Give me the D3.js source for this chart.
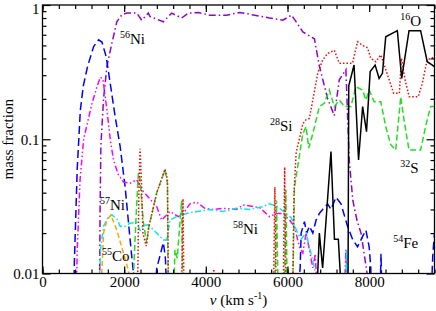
<!DOCTYPE html>
<html>
<head>
<meta charset="utf-8">
<script src="https://cdn.jsdelivr.net/npm/d3@7"></script>
<style>
  body { margin: 0; background: #fff; }
  svg { font-family: "Liberation Serif", "DejaVu Serif", serif; }
</style>
</head>
<body>
<div id="chart"></div>
<script>
// mass fraction vs velocity, one array per isotope: [v (km/s), X]
// values below 0.01 only mean "off the bottom of the plot"
var ni56 = [[1395,0.005],[1410,0.03],[1430,0.09],[1495,0.2],[1578,0.35],[1700,0.52],[1820,0.75],[1950,0.85],[2065,0.87],[2310,0.87],[2430,0.77],[2590,0.87],[2634,0.82],[2960,0.75],[3163,0.87],[3407,0.8],[3570,0.87],[3813,0.88],[4100,0.84],[4505,0.84],[4830,0.88],[5195,0.84],[5560,0.8],[5885,0.77],[6100,0.84],[6250,0.72],[6375,0.63],[6660,0.56],[6780,0.35],[6862,0.28],[6984,0.2],[7146,0.15],[7268,0.277],[7430,0.33],[7512,0.07],[7600,0.035],[7700,0.025],[7800,0.02],[7950,0.01],[8000,0.005]];

var fe54 = [[760,0.005],[780,0.012],[850,0.06],[927,0.165],[1000,0.25],[1105,0.35],[1252,0.49],[1373,0.55],[1456,0.53],[1561,0.41],[1659,0.26],[1780,0.147],[1902,0.088],[2024,0.044],[2146,0.0178],[2228,0.01],[2260,0.005],
  [2700,0.005],[2800,0.011],[2960,0.017],[3010,0.013],[3060,0.005],
  [6200,0.005],[6310,0.011],[6334,0.02],[6415,0.0243],[6470,0.02],[6536,0.0225],[6620,0.02],[6700,0.025],[6780,0.028],[6860,0.03],[6984,0.033],[7065,0.03],[7187,0.037],[7310,0.033],[7470,0.0225],[7593,0.018],[7715,0.0158],[7837,0.0188],[7920,0.021],[8000,0.0158],[8040,0.011],[8070,0.005],
  [8260,0.005],[8290,0.014],[8320,0.005],[9500,0.005],[9560,0.014],[9600,0.02]];

var ni57 = [[820,0.005],[850,0.015],[920,0.05],[1008,0.1],[1212,0.185],[1334,0.246],[1415,0.29],[1480,0.28],[1578,0.165],[1659,0.1],[1740,0.07],[1850,0.055],[1983,0.048],[2146,0.047],[2310,0.05],[2430,0.042],[2593,0.037],[2797,0.0315],[2920,0.025],[3122,0.029],[3325,0.0265],[3450,0.028],[3610,0.033],[3773,0.034],[3976,0.0306],[4180,0.03],[4420,0.0306],[4750,0.03],[4910,0.0324],[5317,0.031],[5560,0.0265],[5724,0.028],[5885,0.028],[6050,0.025],[6170,0.0225],[6290,0.0158],[6375,0.0142],[6455,0.02],[6536,0.015],[6620,0.011],[6680,0.014],[6750,0.005],
  [7380,0.005],[7430,0.015],[7480,0.005]];

var ni58 = [[1370,0.005],[1420,0.015],[1495,0.0225],[1600,0.026],[1700,0.0273],[1821,0.0255],[1902,0.0225],[2024,0.0225],[2146,0.0237],[2310,0.024],[2390,0.021],[2470,0.023],[2593,0.023],[2797,0.02],[2960,0.0178],[3040,0.0178],[3122,0.025],[3285,0.0265],[3529,0.028],[3800,0.029],[4098,0.03],[4420,0.029],[4750,0.0306],[5073,0.03],[5400,0.0315],[5560,0.033],[5720,0.032],[5968,0.028],[6090,0.026],[6250,0.02],[6334,0.018],[6455,0.02],[6536,0.0158],[6660,0.011],[6720,0.005],
  [7400,0.005],[7450,0.015],[7500,0.005]];

var co55 = [[1400,0.005],[1450,0.01],[1495,0.02],[1580,0.025],[1675,0.0273],[1821,0.021],[1983,0.0142],[2105,0.0105],[2180,0.007]];

var s32 = [[2200,0.005],[2230,0.01],[2300,0.03],[2350,0.056],[2390,0.05],[2472,0.0237],[2553,0.0168],[2600,0.022],[2797,0.04],[3000,0.059],[3060,0.047],[3080,0.005],
  [3200,0.005],[3244,0.015],[3300,0.013],[3407,0.035],[3440,0.005],
  [5680,0.005],[5730,0.035],[5780,0.005],[5920,0.005],[5960,0.042],[6000,0.005],
  [6120,0.005],[6170,0.044],[6290,0.075],[6375,0.11],[6455,0.124],[6520,0.086],[6620,0.11],[6780,0.175],[6900,0.185],[7024,0.233],[7146,0.175],[7268,0.196],[7400,0.175],[7553,0.175],[7675,0.246],[7837,0.233],[7920,0.196],[8000,0.233],[8122,0.19],[8285,0.19],[8406,0.124],[8530,0.091],[8650,0.083],[8773,0.207],[8854,0.139],[8976,0.083],[9260,0.083],[9380,0.124],[9505,0.175],[9600,0.175]];

var si28 = [[2320,0.005],[2360,0.04],[2390,0.085],[2420,0.05],[2460,0.02],[2540,0.016],[2600,0.022],[2800,0.04],[3000,0.06],[3060,0.05],[3090,0.005],
  [3400,0.005],[3440,0.036],[3470,0.005],[4170,0.005],[4195,0.0108],[4220,0.005],
  [5650,0.005],[5690,0.044],[5730,0.005],[5890,0.005],[5930,0.062],[5965,0.005],
  [6120,0.005],[6160,0.04],[6212,0.08],[6290,0.1],[6375,0.13],[6455,0.14],[6536,0.143],[6620,0.196],[6740,0.31],[6862,0.39],[6984,0.436],[7146,0.46],[7268,0.368],[7430,0.368],[7593,0.368],[7715,0.533],[7837,0.5],[7960,0.48],[8040,0.4],[8163,0.378],[8285,0.425],[8340,0.38],[8490,0.277],[8600,0.22],[8740,0.22],[8790,0.4],[8880,0.277],[8980,0.207],[9200,0.207],[9300,0.26],[9420,0.39],[9600,0.41]];

var o16 = [[6700,0.005],[6780,0.02],[6860,0.011],[7065,0.081],[7150,0.018],[7245,0.018],[7310,0.008],[7400,0.005],[7480,0.005],[7500,0.25],[7630,0.357],[7740,0.07],[7840,0.175],[7935,0.114],[8025,0.319],[8146,0.357],[8244,0.284],[8325,0.31],[8406,0.58],[8690,0.644],[8797,0.284],[8976,0.644],[9260,0.644],[9422,0.378],[9600,0.347]];

// label text: mass number, element, where it sits (v, X)
var labelMass = ["56", "57", "55", "58", "28", "16", "32", "54"];
var labelElem = ["Ni", "Ni", "Co", "Ni", "Si", "O", "S", "Fe"];
var labelV = [1898, 1408, 1457, 4666, 5572, 8759, 8759, 8587];
var labelX = [0.512, 0.0297, 0.0124, 0.0197, 0.115, 0.698, 0.056, 0.0155];

var xTicks = [0, 2000, 4000, 6000, 8000];
var yTicks = [0.01, 0.1, 1];

var width = 436, height = 311;
var margin = {top: 5, right: 1.5, bottom: 37.5, left: 42.5};

var svg = d3.select('#chart').append('svg')
  .attr('width', width)
  .attr('height', height);

var x = d3.scaleLinear().domain([0, 9600]).range([margin.left, width - margin.right]);
var y = d3.scaleLog().domain([0.01, 1]).range([height - margin.bottom, margin.top]);

svg.append('clipPath').attr('id', 'clip')
  .append('rect')
  .attr('x', margin.left).attr('y', margin.top)
  .attr('width', x.range()[1] - margin.left)
  .attr('height', y.range()[0] - margin.top);

// one entry per curve: data, colour, dash
var series = [
  {data: ni56, color: '#9400d3', dash: '7,3,1.5,3'},
  {data: fe54, color: '#0000ff', dash: '8,4'},
  {data: ni57, color: '#ff00ff', dash: '6,2.5,1.5,2.5,1.5,2.5'},
  {data: ni58, color: '#00e8f0', dash: '6,2.5,1.5,2.5'},
  {data: co55, color: '#ffa500', dash: '5,3'},
  {data: s32, color: '#22dd22', dash: '6,3'},
  {data: si28, color: '#ff0000', dash: '1.5,2'},
  {data: o16, color: '#000000', dash: null}
];

var line = d3.line()
  .x(function (d) { return x(d[0]); })
  .y(function (d) { return y(d[1]); });

svg.append('g').attr('clip-path', 'url(#clip)')
  .selectAll('path')
  .data(series)
  .enter()
  .append('path')
  .attr('d', function (d) { return line(d.data); })
  .attr('fill', 'none')
  .attr('stroke', function (d) { return d.color; })
  .attr('stroke-width', 1.5)
  .attr('stroke-dasharray', function (d) { return d.dash; });

// axes: ticks inward on all four sides
var xMinor = d3.range(0, 9601, 400);
var yMinor = [];
[0.01, 0.1].forEach(function (b) { for (var k = 2; k <= 9; k++) yMinor.push(b * k); });

var x0 = margin.left, x1 = x.range()[1], y0 = y.range()[0], y1 = margin.top;

function noDomain(g) { g.select('.domain').remove(); }

svg.append('g')
  .attr('transform', 'translate(0,' + y0 + ')')
  .call(d3.axisBottom(x).tickValues(xMinor).tickSize(-4).tickFormat(''))
  .call(noDomain);
svg.append('g')
  .attr('class', 'xlab')
  .attr('transform', 'translate(0,' + y0 + ')')
  .call(d3.axisBottom(x).tickValues(xTicks).tickSize(-7).tickPadding(3).tickFormat(d3.format('d')))
  .call(noDomain);
svg.append('g')
  .attr('transform', 'translate(0,' + y1 + ')')
  .call(d3.axisTop(x).tickValues(xMinor).tickSize(-4).tickFormat(''))
  .call(noDomain);
svg.append('g')
  .attr('transform', 'translate(0,' + y1 + ')')
  .call(d3.axisTop(x).tickValues(xTicks).tickSize(-7).tickFormat(''))
  .call(noDomain);

svg.append('g')
  .attr('transform', 'translate(' + x0 + ',0)')
  .call(d3.axisLeft(y).tickValues(yMinor).tickSize(-4).tickFormat(''))
  .call(noDomain);
svg.append('g')
  .attr('class', 'ylab')
  .attr('transform', 'translate(' + x0 + ',0)')
  .call(d3.axisLeft(y).tickValues(yTicks).tickSize(-8).tickPadding(3).tickFormat(function (d) { return String(d); }))
  .call(noDomain);
svg.append('g')
  .attr('transform', 'translate(' + x1 + ',0)')
  .call(d3.axisRight(y).tickValues(yMinor).tickSize(-4).tickFormat(''))
  .call(noDomain);
svg.append('g')
  .attr('transform', 'translate(' + x1 + ',0)')
  .call(d3.axisRight(y).tickValues(yTicks).tickSize(-8).tickFormat(''))
  .call(noDomain);

svg.selectAll('.tick line').attr('stroke', '#000').attr('stroke-width', 1.2);
svg.selectAll('.tick text')
  .attr('font-family', '"Liberation Serif", serif')
  .attr('font-size', 15)
  .attr('fill', '#000');
// keep the top "1" inside the picture
svg.selectAll('.ylab .tick text').filter(function (d) { return d === 1; })
  .attr('dy', '0.55em');

// frame
svg.append('rect')
  .attr('x', x0).attr('y', y1)
  .attr('width', x1 - x0).attr('height', y0 - y1)
  .attr('fill', 'none').attr('stroke', '#000').attr('stroke-width', 1.3);

// isotope labels
var labels = svg.append('g')
  .attr('font-size', 15)
  .selectAll('text')
  .data(labelMass)
  .enter()
  .append('text')
  .attr('x', function (d, i) { return x(labelV[i]); })
  .attr('y', function (d, i) { return y(labelX[i]); });
labels.append('tspan')
  .attr('font-size', 10)
  .attr('dy', -6)
  .text(function (d) { return d; });
labels.append('tspan')
  .attr('dy', 6)
  .text(function (d, i) { return labelElem[i]; });

// axis titles
svg.append('text')
  .attr('transform', 'translate(13,' + ((y0 + y1) / 2) + ') rotate(-90)')
  .attr('text-anchor', 'middle')
  .attr('font-size', 15)
  .text('mass fraction');

var xt = svg.append('text')
  .attr('x', (x0 + x1) / 2)
  .attr('y', 305)
  .attr('text-anchor', 'middle')
  .attr('font-size', 15);
xt.append('tspan').attr('font-style', 'italic').text('v');
xt.append('tspan').text(' (km s');
xt.append('tspan').attr('font-size', 10).attr('dy', -6).text('-1');
xt.append('tspan').attr('dy', 6).text(')');
</script>
</body>
</html>
